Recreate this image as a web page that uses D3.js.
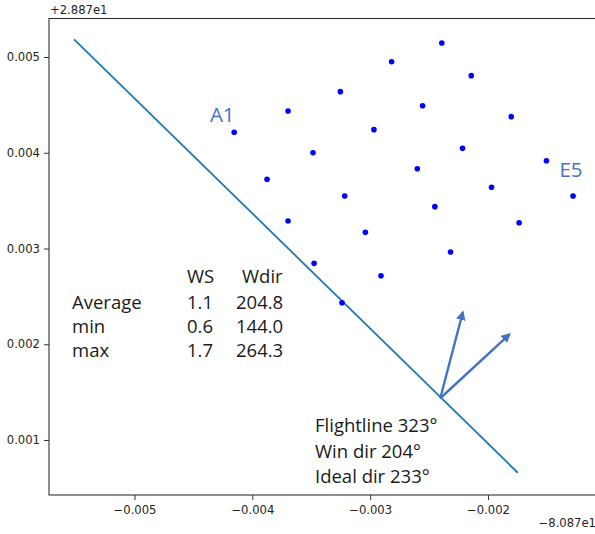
<!DOCTYPE html>
<html>
<head>
<meta charset="utf-8">
<script src="https://cdn.jsdelivr.net/npm/d3@7"></script>
<style>
  body { margin: 0; background: #fff; }
  svg { display: block; }
  .tick text { font-family: "DejaVu Sans", sans-serif; font-size: 11.6px; fill: #222; }
  .note { font-family: "Open Sans", sans-serif; font-size: 18.5px; fill: #1a1a1a; }
</style>
</head>
<body>
<script>
// sampling points A1..E5 (offset from lon -80.87 / lat 28.87)
const pointX = [-0.002392, -0.002818, -0.002142, -0.003253, -0.003697, -0.002555, -0.004154, -0.002968,
  -0.001803, -0.003485, -0.002216, -0.002600, -0.003875, -0.001504, -0.001970, -0.003216, -0.002451,
  -0.001278, -0.003697, -0.001736, -0.003041, -0.002318, -0.003476, -0.002908, -0.003239];
const pointY = [0.005146, 0.004951, 0.004805, 0.004638, 0.004436, 0.004491, 0.004214, 0.004241,
  0.004377, 0.004000, 0.004046, 0.003833, 0.003723, 0.003917, 0.003639, 0.003548, 0.003437,
  0.003548, 0.003287, 0.003269, 0.003169, 0.002963, 0.002845, 0.002716, 0.002434];

// flight line ends
const flightX = [-0.005513, -0.001747];
const flightY = [0.005185, 0.000658];

// wind arrows: common base, two tips
const arrowBase = [-0.002405, 0.001436];
const arrowTipX = [-0.002214, -0.001818];
const arrowTipY = [0.002334, 0.002104];

// corner labels
const labelText = ["A1", "E5"];
const labelX = [-0.00436, -0.001394];
const labelY = [0.004326, 0.003747];

const xTicks = [-0.005, -0.004, -0.003, -0.002];
const yTicks = [0.001, 0.002, 0.003, 0.004, 0.005];
const xOffset = "\u22128.087e1";
const yOffset = "+2.887e1";

const tableHead = ["WS", "Wdir"];
const tableRows = ["Average", "min", "max"];
const tableWS = ["1.1", "0.6", "1.7"];
const tableWdir = ["204.8", "144.0", "264.3"];
const flightNotes = ["Flightline 323\u00b0", "Win dir 204\u00b0", "Ideal dir 233\u00b0"];

const W = 595, H = 534;
const plot = { left: 49, right: 597, top: 18.5, bottom: 495 };

const svg = d3.select("body").append("svg").attr("width", W).attr("height", H);

// scales anchored on tick positions, then stretched to the frame
const x = d3.scaleLinear().domain([-0.005, -0.002]).range([134.5, 488]);
x.domain([x.invert(plot.left), x.invert(plot.right)]).range([plot.left, plot.right]);
const y = d3.scaleLinear().domain([0.001, 0.005]).range([440, 57]);
y.domain([y.invert(plot.bottom), y.invert(plot.top)]).range([plot.bottom, plot.top]);

const fmt = d3.format(".3f");

// frame
svg.append("rect")
  .attr("x", plot.left).attr("y", plot.top)
  .attr("width", plot.right - plot.left).attr("height", plot.bottom - plot.top)
  .attr("fill", "none").attr("stroke", "#333").attr("stroke-width", 1.1);

const xAxis = d3.axisBottom(x).tickValues(xTicks).tickFormat(fmt).tickSize(5).tickPadding(6);
const gx = svg.append("g").attr("class", "x axis").attr("transform", `translate(0,${plot.bottom})`).call(xAxis);
const yAxis = d3.axisLeft(y).tickValues(yTicks).tickFormat(fmt).tickSize(5).tickPadding(4);
const gy = svg.append("g").attr("class", "y axis").attr("transform", `translate(${plot.left},0)`).call(yAxis);
[gx, gy].forEach(g => {
  g.select(".domain").remove();
  g.selectAll(".tick line").attr("stroke", "#333").attr("stroke-width", 1);
});

// offset texts
svg.append("text").attr("x", plot.left + 1).attr("y", 14)
  .style("font-family", "DejaVu Sans").style("font-size", "11.6px").attr("fill", "#222")
  .text(yOffset);
svg.append("text").attr("x", plot.right - 1).attr("y", 527).attr("text-anchor", "end")
  .style("font-family", "DejaVu Sans").style("font-size", "11.6px").attr("fill", "#222")
  .text(xOffset);

// flight line
svg.append("line")
  .attr("x1", x(flightX[0])).attr("y1", y(flightY[0]))
  .attr("x2", x(flightX[1])).attr("y2", y(flightY[1]))
  .attr("stroke", "#1f77b4").attr("stroke-width", 1.8);

// points
svg.selectAll("circle.pt").data(pointX).enter().append("circle")
  .attr("class", "pt")
  .attr("cx", d => x(d)).attr("cy", (d, i) => y(pointY[i]))
  .attr("r", 2.8).attr("fill", "#0000ff");

// labels
svg.selectAll("text.lab").data(labelText).enter().append("text")
  .attr("class", "lab")
  .attr("x", (d, i) => x(labelX[i])).attr("y", (d, i) => y(labelY[i]))
  .style("font-family", "Open Sans").style("font-size", "20.5px").attr("fill", "#4472c4")
  .text(d => d);

// arrows
svg.append("defs").append("marker")
  .attr("id", "head").attr("viewBox", "0 0 10 10").attr("refX", 8).attr("refY", 5)
  .attr("markerWidth", 4).attr("markerHeight", 4).attr("orient", "auto")
  .attr("markerUnits", "strokeWidth")
  .append("path").attr("d", "M0,0 L10,5 L0,10 z").attr("fill", "#4472c4");

svg.selectAll("line.arrow").data(arrowTipX).enter().append("line")
  .attr("class", "arrow")
  .attr("x1", x(arrowBase[0])).attr("y1", y(arrowBase[1]))
  .attr("x2", d => x(d)).attr("y2", (d, i) => y(arrowTipY[i]))
  .attr("stroke", "#4472c4").attr("stroke-width", 2.4)
  .attr("marker-end", "url(#head)");

// stats table
const table = { left: 72, col1: 187, col2: 236, head: 283, row0: 309, step: 24 };
svg.append("text").attr("class", "note").attr("x", table.col1).attr("y", table.head).text(tableHead[0]);
svg.append("text").attr("class", "note").attr("x", table.col2 + 6).attr("y", table.head).text(tableHead[1]);
tableRows.forEach((r, i) => {
  const yy = table.row0 + i * table.step;
  svg.append("text").attr("class", "note").attr("x", table.left).attr("y", yy).text(r);
  svg.append("text").attr("class", "note").attr("x", table.col1).attr("y", yy).text(tableWS[i]);
  svg.append("text").attr("class", "note").attr("x", table.col2).attr("y", yy).text(tableWdir[i]);
});

// flight notes
flightNotes.forEach((t, i) => {
  svg.append("text").attr("class", "note").attr("x", 315).attr("y", 432 + i * 25.5).text(t);
});
</script>
</body>
</html>
